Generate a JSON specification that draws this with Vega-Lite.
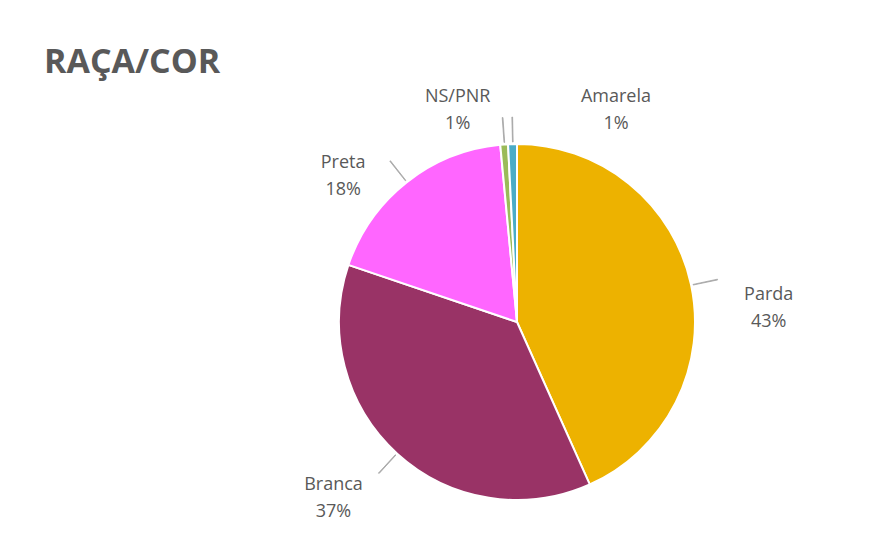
{
  "$schema": "https://vega.github.io/schema/vega-lite/v6.json",
  "autosize": "none",
  "width": 356,
  "height": 356,
  "padding": {"left": 339, "top": 144, "right": 201, "bottom": 52},
  "background": "white",
  "config": {"view": {"stroke": null}, "font": "Open Sans"},
  "title": {
    "text": "RAÇA/COR",
    "anchor": "start",
    "frame": "group",
    "dx": -295,
    "offset": 8,
    "fontSize": 34,
    "fontWeight": "bold",
    "color": "#595959",
    "font": "Open Sans"
  },
  "data": {
    "values": [
      {"cat": "Parda", "value": 43.3, "order": 1},
      {"cat": "Branca", "value": 36.9, "order": 2},
      {"cat": "Preta", "value": 18.3, "order": 3},
      {"cat": "NS/PNR", "value": 0.7, "order": 4},
      {"cat": "Amarela", "value": 0.8, "order": 5}
    ]
  },
  "transform": [
    {"stack": "value", "groupby": [], "sort": [{"field": "order", "order": "ascending"}], "as": ["v0", "v1"]},
    {"calculate": "(datum.v0 + datum.v1) / 2", "as": "mid"},
    {"calculate": "datum.mid + 0.06", "as": "mid2"},
    {"calculate": "datum.cat + '\\n' + format(datum.value / 100, '.0%')", "as": "label"}
  ],
  "layer": [
    {
      "mark": {"type": "arc", "stroke": "white", "strokeWidth": 2},
      "encoding": {
        "theta": {"field": "v0", "type": "quantitative", "scale": {"domain": [0, 100]}},
        "theta2": {"field": "v1"},
        "color": {
          "field": "cat",
          "type": "nominal",
          "scale": {
            "domain": ["Parda", "Branca", "Preta", "NS/PNR", "Amarela"],
            "range": ["#EDB200", "#993366", "#FF66FF", "#9BBB59", "#4BACC6"]
          },
          "legend": null
        }
      }
    },
    {
      "mark": {"type": "arc", "radius": 180, "radius2": 205, "fill": "#a6a6a6", "stroke": "#a6a6a6", "strokeWidth": 0.8},
      "encoding": {
        "theta": {"field": "mid", "type": "quantitative"},
        "theta2": {"field": "mid2"}
      }
    },
    {
      "transform": [{"filter": "datum.cat == 'Parda'"}],
      "mark": {"type": "text", "radius": 240, "dx": 17, "dy": 23, "fontSize": 18, "color": "#595959", "lineBreak": "\n", "lineHeight": 27, "align": "center", "baseline": "middle"},
      "encoding": {"theta": {"field": "mid", "type": "quantitative"}, "text": {"field": "label"}}
    },
    {
      "transform": [{"filter": "datum.cat == 'Branca'"}],
      "mark": {"type": "text", "radius": 240, "dx": -22, "dy": -15, "fontSize": 18, "color": "#595959", "lineBreak": "\n", "lineHeight": 27, "align": "center", "baseline": "middle"},
      "encoding": {"theta": {"field": "mid", "type": "quantitative"}, "text": {"field": "label"}}
    },
    {
      "transform": [{"filter": "datum.cat == 'Preta'"}],
      "mark": {"type": "text", "radius": 240, "dx": -25, "dy": 29, "fontSize": 18, "color": "#595959", "lineBreak": "\n", "lineHeight": 27, "align": "center", "baseline": "middle"},
      "encoding": {"theta": {"field": "mid", "type": "quantitative"}, "text": {"field": "label"}}
    },
    {
      "transform": [{"filter": "datum.cat == 'NS/PNR'"}],
      "mark": {"type": "text", "radius": 240, "dx": -42, "dy": 14, "fontSize": 18, "color": "#595959", "lineBreak": "\n", "lineHeight": 27, "align": "center", "baseline": "middle"},
      "encoding": {"theta": {"field": "mid", "type": "quantitative"}, "text": {"field": "label"}}
    },
    {
      "transform": [{"filter": "datum.cat == 'Amarela'"}],
      "mark": {"type": "text", "radius": 240, "dx": 105, "dy": 15, "fontSize": 18, "color": "#595959", "lineBreak": "\n", "lineHeight": 27, "align": "center", "baseline": "middle"},
      "encoding": {"theta": {"field": "mid", "type": "quantitative"}, "text": {"field": "label"}}
    }
  ]
}
